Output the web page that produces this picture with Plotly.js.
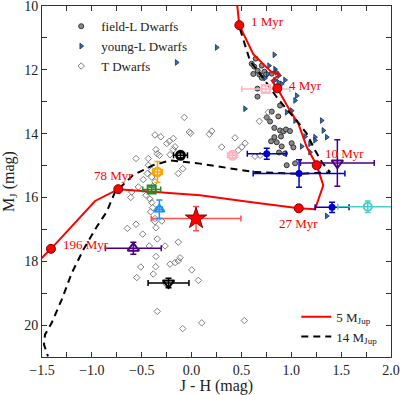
<!DOCTYPE html>
<html><head><meta charset="utf-8">
<script src="https://cdn.plot.ly/plotly-3.0.1.min.js"></script>
<style>html,body{margin:0;padding:0;background:#fff}</style>
</head><body><div id="chart" style="width:400px;height:395px"></div>
<script>
// field-L dwarfs
const fieldJH = [0.643,0.603,0.629,0.704,0.663,0.730,0.680,0.704,0.747,0.804,0.661,0.661,0.887,0.804,0.754,0.870,0.787,0.830,0.887,0.920,0.947,0.987,0.830,0.897,0.797,0.854,0.904,1.004,1.021,0.877,0.937,0.954,1.038,0.619];
const fieldMJ = [11.65,11.81,11.90,11.87,12.03,12.06,12.15,12.25,12.15,12.12,12.59,12.84,13.12,13.31,13.49,13.46,13.62,13.82,13.90,13.93,13.87,13.92,14.11,14.09,14.24,14.27,14.40,14.30,14.43,14.59,14.62,14.99,14.93,12.13];
// young-L dwarfs
const youngJH = [-0.150,0.252,0.830,0.777,0.837,0.854,0.877,0.764,0.737,0.904,0.937,0.536,1.004,0.954,1.038,1.305,1.322,1.138,1.238,1.105,1.188,1.055,1.038,1.356,1.188,1.238,1.356,0.837,0.870];
const youngMJ = [11.77,11.30,11.53,11.87,11.98,12.08,12.18,12.13,12.26,12.44,12.32,13.22,13.28,13.33,13.59,13.59,13.90,14.09,14.11,14.40,14.32,12.81,12.96,14.11,14.58,14.21,16.58,12.32,12.39];
// T dwarfs
const tJH = [-0.073,-0.023,-0.009,-0.367,-0.309,-0.183,-0.223,-0.249,0.202,0.178,-0.357,-0.344,-0.323,-0.216,-0.183,-0.557,-0.434,-0.089,-0.133,-0.434,-0.400,-0.444,-0.484,-0.400,-0.367,-0.390,-0.534,-0.600,-0.610,-0.457,-0.417,-0.400,-0.390,-0.410,-0.367,-0.299,-0.367,-0.357,-0.557,-0.644,-0.490,-0.344,-0.133,-0.424,-0.266,-0.357,-0.116,-0.133,-0.166,-0.216,-0.510,-0.360,0.002,-0.550,-0.384,0.068,-0.256,-0.344,-0.089,0.102,0.529,0.680,0.754,0.770,0.436,0.302,0.536,0.503,0.469,0.636,0.687,-0.166];
const tMJ = [13.49,13.95,13.99,14.04,14.10,14.15,14.24,14.31,13.92,14.02,14.50,14.63,14.68,14.66,14.50,14.78,14.78,15.10,15.25,14.99,15.15,15.25,15.44,15.36,15.51,15.65,15.67,15.83,16.00,15.93,16.05,16.16,16.32,16.45,16.66,16.74,16.76,16.95,16.84,16.97,17.15,17.30,17.40,17.52,17.52,17.85,17.89,17.99,18.04,18.09,18.18,18.17,18.27,18.51,18.40,18.60,18.71,19.57,20.11,19.93,19.86,13.61,13.50,13.33,14.13,14.42,14.30,14.42,14.52,14.71,14.68,14.41];
// 5 MJup evolutionary track
const track5JH = [0.453,0.479,0.619,0.704,0.804,0.887,0.804,0.860,0.987,1.071,1.155,1.255,1.321,1.238,1.075,0.586,0.085,-0.735,-0.968,-1.410,-1.503];
const track5MJ = [9.84,10.60,11.51,11.77,12.08,12.13,12.34,12.58,13.28,13.69,14.42,14.99,15.62,16.37,16.34,16.14,15.93,15.74,16.11,17.61,17.90];
// 14 MJup evolutionary track
const track14JH = [0.486,0.586,0.737,0.854,0.937,1.055,1.155,1.238,1.308,1.389,1.088,0.616,0.085,-0.216,-0.387,-0.487,-0.587,-0.637,-0.768,-0.851,-0.951,-1.086,-1.202,-1.302,-1.403,-1.470,-1.480,-1.440];
const track14MJ = [10.72,11.72,12.34,12.86,13.17,13.59,14.00,14.52,14.90,15.21,15.26,15.20,14.94,14.84,14.99,15.15,15.30,15.46,15.83,16.45,16.92,17.64,18.37,19.20,19.93,20.30,20.61,20.98];
// ages along the 5 MJup track
const ageLabels = ["1 Myr","4 Myr","10 Myr","27 Myr","78 Myr","196 Myr"];
const ageJH = [0.479,0.860,1.255,1.075,-0.735,-1.410];
const ageMJ = [10.60,12.58,14.99,16.34,15.74,17.61];
// individual objects with error bars
const objJH    = [0.744,0.411,0.754,1.078,1.462,1.409,1.767,0.045,-0.323,-0.400,-0.342,-0.111,-0.584,-0.231];
const objMJ    = [12.60,14.68,14.63,15.25,14.92,16.31,16.29,16.66,16.37,15.75,15.20,14.68,17.59,18.68];
const objErrJH = [0.24,0.05,0.195,0.46,0.37,0.17,0.30,0.45,0.03,0.09,0.05,0.07,0.28,0.205];
const objErrMJ = [0.10,0.08,0.17,0.43,0.73,0.16,0.18,0.38,0.29,0.08,0.33,0.08,0.19,0.15];

const objStyle = [
  {c:'#ffb6c1', s:'square-open', z:8, w:2},
  {c:'#ffb6c1', s:'circle-open', z:8, w:3},
  {c:'#0000cd', s:'circle', z:7, w:0},
  {c:'#0000cd', s:'circle', z:7, w:0},
  {c:'#4b0082', s:'triangle-down-open', z:10, w:2},
  {c:'#0000cd', s:'circle', z:7, w:0},
  {c:'#48d1cc', s:'circle-open', z:8, w:2},
  {c:'#ff0000', s:'star', z:16, w:1, lc:'#8b0000', ec:'#ff5050'},
  {c:'#1e90ff', s:'triangle-up-open', z:9, w:2},
  {c:'#228b22', s:'square-open', z:8, w:2},
  {c:'#ffa500', s:'circle-open', z:8, w:2.5},
  {c:'#000000', s:'circle-open', z:8, w:3},
  {c:'#4b0082', s:'triangle-up-open', z:10, w:2},
  {c:'#000000', s:'triangle-down-open', z:10, w:2}
];

const serif = 'Liberation Serif, DejaVu Serif, serif';
const traces = [];
traces.push({x:fieldJH, y:fieldMJ, type:'scatter', mode:'markers', name:'field-L Dwarfs',
  marker:{symbol:'circle', size:5, color:'#8a8a8a', line:{color:'#333333', width:1}}});
traces.push({x:youngJH, y:youngMJ, type:'scatter', mode:'markers', name:'young-L Dwarfs',
  marker:{symbol:'triangle-right', size:5, color:'#2f6db5', line:{color:'#1a2f4f', width:0.8}}});
traces.push({x:tJH, y:tMJ, type:'scatter', mode:'markers', name:'T Dwarfs',
  marker:{symbol:'diamond-open', size:5, color:'#808080', line:{width:1}}});
traces.push({x:track5JH, y:track5MJ, type:'scatter', mode:'lines', name:'5 M<sub>Jup</sub>', legend:'legend2',
  line:{color:'#ff0000', width:2}});
traces.push({x:track14JH, y:track14MJ, type:'scatter', mode:'lines', name:'14 M<sub>Jup</sub>', legend:'legend2',
  line:{color:'#000000', width:2, dash:'7px,5px'}});
for (let i=0;i<objJH.length;i++){
  const st = objStyle[i];
  const ec = st.ec || st.c;
  traces.push({x:[objJH[i]], y:[objMJ[i]], type:'scatter', mode:'markers', showlegend:false,
    error_x:{type:'data', array:[objErrJH[i]], color:ec, thickness:1.5, width:3},
    error_y:{type:'data', array:[objErrMJ[i]], color:ec, thickness:1.5, width:3},
    marker:{symbol:st.s, size:st.z, color:st.c, line:{color:st.lc||st.c, width:st.w}}});
}
traces.push({x:ageJH, y:ageMJ, type:'scatter', mode:'markers', showlegend:false,
  marker:{symbol:'circle', size:9, color:'#ff0000', line:{color:'#800000', width:1}}});

const labelOffsets = [[10,4,'left'],[10,3,'left'],[6,12,'left'],[0,-15,'center'],[-5,14,'center'],[10,4,'left']];
const annotations = ageLabels.map((t,i)=>({x:ageJH[i], y:ageMJ[i], text:t, showarrow:false,
  xanchor:labelOffsets[i][2], yanchor:'middle', xshift:labelOffsets[i][0], yshift:labelOffsets[i][1],
  font:{family:serif, size:13, color:'#ff0000'}}));

const axisCommon = {showline:true, linecolor:'#333', linewidth:1, mirror:'allticks', ticks:'inside',
  ticklen:5, tickcolor:'#333', tickwidth:1, showgrid:false, zeroline:false,
  ticklabeloverflow:'allow',
  tickfont:{family:serif, size:14, color:'#222'}};

const layout = {
  width:400, height:395,
  margin:{l:42, r:9, t:6, b:38},
  paper_bgcolor:'#fff', plot_bgcolor:'#fff',
  font:{family:serif, size:14, color:'#222'},
  xaxis:Object.assign({}, axisCommon, {range:[-1.5,2.0], tick0:-1.5, dtick:0.5, tickformat:'.1f',
    minor:{dtick:0.25, ticks:'inside', ticklen:5, tickcolor:'#333'},
    title:{text:'J - H (mag)', font:{family:serif, size:16}, standoff:6}}),
  yaxis:Object.assign({}, axisCommon, {range:[21,10], tick0:10, dtick:2,
    minor:{dtick:1, ticks:'inside', ticklen:5, tickcolor:'#333'},
    title:{text:'M<sub>J</sub> (mag)', font:{family:serif, size:16}, standoff:6}}),
  legend:{x:0.055, y:0.985, xanchor:'left', yanchor:'top', bgcolor:'rgba(0,0,0,0)',
    font:{family:serif, size:13, color:'#222'}},
  legend2:{x:0.975, y:0.015, xanchor:'right', yanchor:'bottom', bgcolor:'rgba(0,0,0,0)',
    font:{family:serif, size:13, color:'#222'}},
  annotations:annotations,
  showlegend:true
};
Plotly.newPlot('chart', traces, layout, {displayModeBar:false, staticPlot:true});
</script></body></html>
